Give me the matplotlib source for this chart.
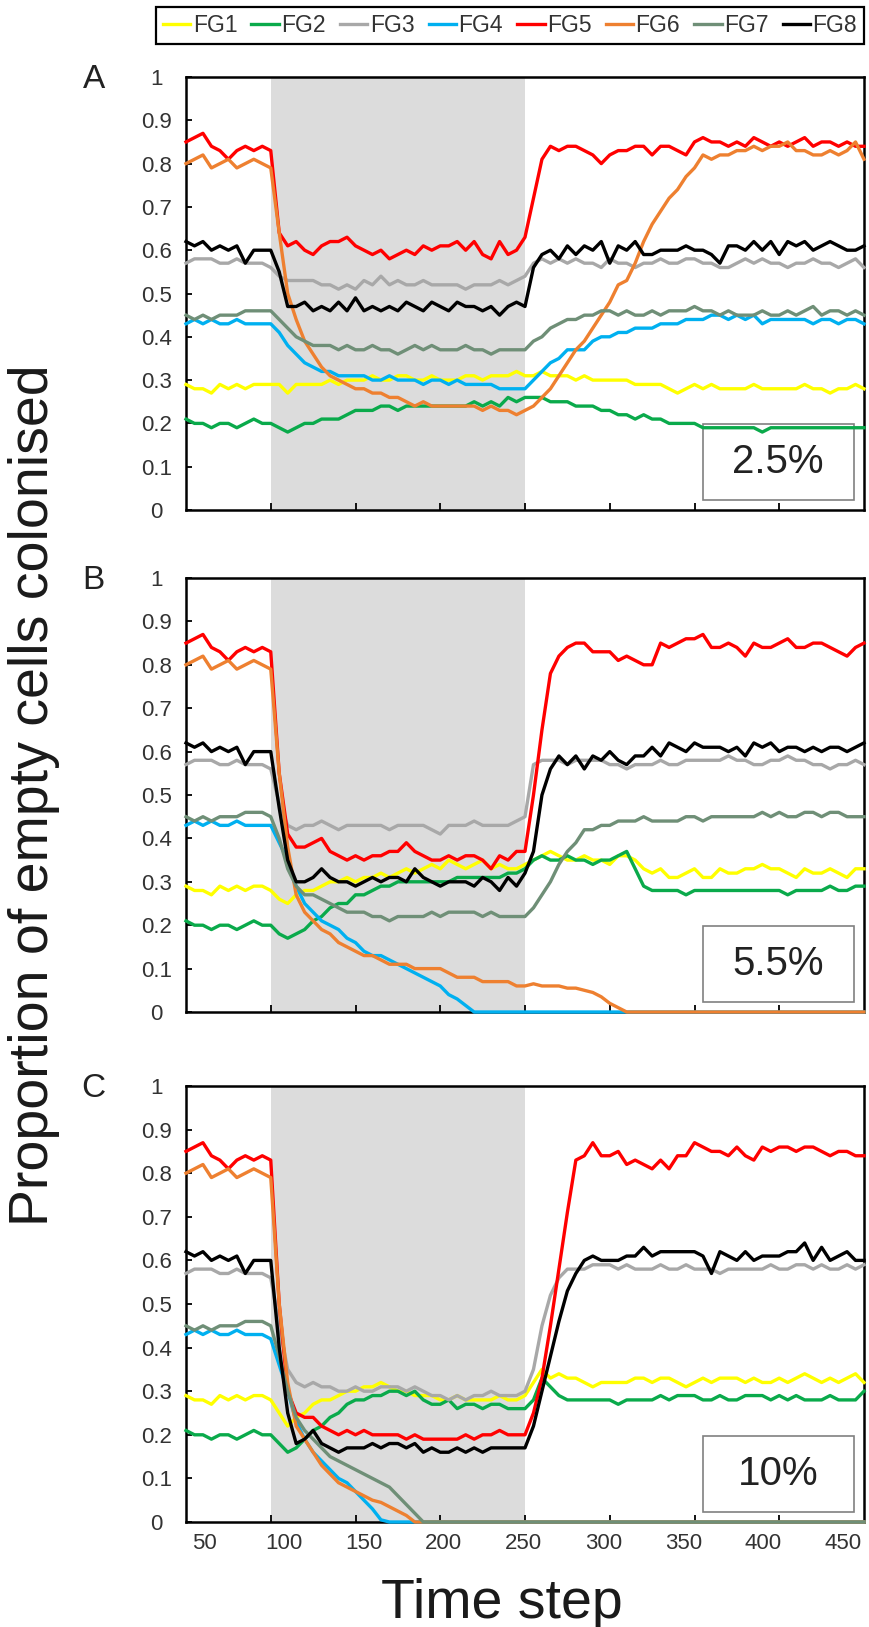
import numpy as np
import matplotlib.pyplot as plt
from matplotlib.patches import Rectangle
from matplotlib.lines import Line2D

# proportions are stored in percent, time steps 50..95 (shared start) and 100..450
groups = ['FG1', 'FG2', 'FG3', 'FG4', 'FG5', 'FG6', 'FG7', 'FG8']
colors = ['#ffff00', '#0aaa4b', '#a8a8a8', '#00b0f0', '#ff0000', '#ee8030', '#6f8f77', '#000000']
steps_pre = np.arange(50, 100, 5)
steps_post = np.arange(100, 455, 5)

fg1_pre = [29, 28, 28, 27, 29, 28, 29, 28, 29, 29]
fg2_pre = [21, 20, 20, 19, 20, 20, 19, 20, 21, 20]
fg3_pre = [57, 58, 58, 58, 57, 57, 58, 57, 57, 57]
fg4_pre = [43, 44, 43, 44, 43, 43, 44, 43, 43, 43]
fg5_pre = [85, 86, 87, 84, 83, 81, 83, 84, 83, 84]
fg6_pre = [80, 81, 82, 79, 80, 81, 79, 80, 81, 80]
fg7_pre = [45, 44, 45, 44, 45, 45, 45, 46, 46, 46]
fg8_pre = [62, 61, 62, 60, 61, 60, 61, 57, 60, 60]

# A: 2.5%
fg1_a = [29, 29, 27, 29, 29, 29, 29, 30, 29, 30, 30, 30, 31, 30, 30, 31, 31, 30, 30, 31,
         30, 30, 30, 31, 31, 30, 31, 31, 31, 32, 31, 31, 32, 31, 31, 31, 30, 31, 30, 30,
         30, 30, 30, 29, 29, 29, 29, 28, 27, 28, 29, 28, 29, 28, 28, 28, 28, 29, 28, 28,
         28, 28, 28, 29, 28, 28, 27, 28, 28, 29, 28]
fg2_a = [20, 19, 18, 19, 20, 20, 21, 21, 21, 22, 23, 23, 23, 24, 24, 23, 24, 24, 24, 24,
         24, 24, 24, 24, 25, 24, 25, 24, 26, 25, 26, 26, 26, 25, 25, 25, 24, 24, 24, 23,
         23, 22, 22, 21, 22, 21, 21, 20, 20, 20, 20, 19, 19, 19, 19, 19, 19, 19, 18, 19,
         19, 19, 19, 19, 19, 19, 19, 19, 19, 19, 19]
fg3_a = [56, 54, 53, 53, 53, 53, 52, 52, 51, 52, 51, 53, 52, 54, 52, 53, 52, 52, 53, 52,
         52, 52, 52, 51, 52, 52, 52, 53, 52, 53, 54, 57, 58, 57, 58, 57, 58, 57, 57, 56,
         58, 57, 57, 56, 57, 57, 58, 57, 57, 58, 58, 57, 57, 56, 56, 57, 58, 57, 58, 57,
         57, 56, 57, 57, 58, 57, 57, 56, 57, 58, 56]
fg4_a = [43, 41, 38, 36, 34, 33, 32, 32, 31, 31, 31, 31, 30, 30, 31, 30, 30, 30, 29, 30,
         30, 29, 30, 29, 29, 29, 29, 28, 28, 28, 28, 30, 32, 34, 35, 37, 37, 37, 39, 40,
         40, 41, 41, 42, 42, 42, 43, 43, 43, 44, 44, 44, 45, 45, 44, 45, 44, 45, 43, 44,
         44, 44, 44, 44, 43, 44, 44, 43, 44, 44, 43]
fg5_a = [83, 64, 61, 62, 60, 59, 61, 62, 62, 63, 61, 60, 59, 60, 58, 59, 60, 59, 61, 60,
         61, 61, 62, 60, 62, 59, 58, 62, 59, 60, 63, 72, 81, 84, 83, 84, 84, 83, 82, 80,
         82, 83, 83, 84, 84, 82, 84, 84, 83, 82, 85, 86, 85, 85, 84, 85, 84, 86, 85, 84,
         85, 84, 85, 86, 84, 85, 85, 84, 85, 84, 84]
fg6_a = [79, 64, 50, 44, 39, 36, 33, 31, 30, 29, 28, 28, 27, 27, 26, 26, 25, 24, 25, 24,
         24, 24, 24, 24, 24, 23, 24, 23, 23, 22, 23, 24, 26, 28, 31, 34, 37, 39, 42, 45,
         48, 52, 53, 57, 62, 66, 69, 72, 74, 77, 79, 82, 81, 82, 82, 83, 83, 84, 83, 84,
         84, 85, 83, 83, 82, 82, 83, 82, 83, 85, 81]
fg7_a = [46, 44, 42, 40, 39, 38, 38, 38, 37, 38, 37, 37, 38, 37, 37, 36, 37, 38, 37, 38,
         37, 37, 37, 38, 37, 37, 36, 37, 37, 37, 37, 39, 40, 42, 43, 44, 44, 45, 45, 46,
         46, 45, 46, 45, 45, 46, 45, 46, 46, 46, 47, 46, 46, 45, 46, 45, 45, 45, 46, 45,
         45, 46, 45, 46, 47, 45, 46, 46, 45, 46, 45]
fg8_a = [60, 55, 47, 47, 48, 46, 47, 46, 48, 46, 49, 46, 47, 46, 47, 46, 48, 47, 46, 48,
         47, 46, 48, 47, 47, 46, 47, 45, 47, 48, 47, 56, 59, 60, 58, 61, 59, 61, 60, 62,
         57, 61, 60, 62, 59, 59, 60, 60, 60, 61, 60, 60, 59, 57, 61, 61, 60, 62, 60, 62,
         59, 62, 61, 62, 60, 61, 62, 61, 60, 60, 61]

# B: 5.5%
fg1_b = [28, 26, 25, 27, 28, 28, 29, 30, 30, 31, 30, 31, 31, 32, 31, 32, 33, 32, 33, 34,
         33, 35, 34, 33, 34, 35, 33, 34, 33, 33, 34, 35, 36, 37, 36, 35, 35, 36, 35, 35,
         34, 36, 36, 35, 33, 32, 33, 31, 31, 32, 33, 31, 31, 33, 32, 32, 33, 33, 34, 33,
         33, 32, 31, 33, 32, 32, 33, 32, 31, 33, 33]
fg2_b = [20, 18, 17, 18, 19, 21, 22, 24, 25, 25, 27, 27, 28, 29, 29, 30, 30, 30, 30, 30,
         30, 30, 31, 31, 31, 31, 31, 31, 32, 32, 33, 35, 36, 35, 35, 36, 35, 35, 34, 35,
         35, 36, 37, 33, 29, 28, 28, 28, 28, 27, 28, 28, 28, 28, 28, 28, 28, 28, 28, 28,
         28, 27, 28, 28, 28, 28, 29, 28, 28, 29, 29]
fg3_b = [56, 48, 43, 42, 43, 43, 44, 43, 42, 43, 43, 43, 43, 43, 42, 43, 43, 43, 43, 42,
         41, 43, 43, 43, 44, 43, 43, 43, 43, 44, 45, 57, 58, 58, 58, 57, 58, 58, 58, 58,
         57, 57, 56, 57, 57, 57, 58, 57, 57, 58, 58, 58, 58, 58, 59, 58, 58, 57, 57, 58,
         58, 59, 58, 58, 57, 57, 56, 57, 57, 58, 57]
fg4_b = [43, 39, 35, 29, 25, 23, 21, 20, 19, 17, 16, 14, 13, 13, 12, 11, 10, 9, 8, 7,
         6, 4, 3, 1.5, 0, 0, 0, 0, 0, 0, 0, 0, 0, 0, 0, 0, 0, 0, 0, 0,
         0, 0, 0, 0, 0, 0, 0, 0, 0, 0, 0, 0, 0, 0, 0, 0, 0, 0, 0, 0,
         0, 0, 0, 0, 0, 0, 0, 0, 0, 0, 0]
fg5_b = [83, 55, 41, 38, 38, 39, 40, 37, 36, 35, 36, 35, 36, 36, 37, 37, 39, 37, 36, 35,
         35, 36, 35, 36, 36, 35, 33, 36, 35, 37, 37, 50, 65, 78, 82, 84, 85, 85, 83, 83,
         83, 81, 82, 81, 80, 80, 85, 84, 85, 86, 86, 87, 84, 84, 85, 84, 82, 85, 84, 84,
         85, 86, 84, 84, 85, 85, 84, 83, 82, 84, 85]
fg6_b = [79, 55, 38, 27, 23, 21, 19, 18, 16, 15, 14, 13, 13, 12, 11, 11, 11, 10, 10, 10,
         10, 9, 8, 8, 8, 7, 7, 7, 7, 6, 6, 6.5, 6, 6, 6, 5.5, 5.5, 5, 4.5, 3.5,
         2, 1, 0, 0, 0, 0, 0, 0, 0, 0, 0, 0, 0, 0, 0, 0, 0, 0, 0, 0,
         0, 0, 0, 0, 0, 0, 0, 0, 0, 0, 0]
fg7_b = [45, 40, 33, 29, 27, 27, 26, 25, 24, 23, 23, 23, 22, 22, 21, 22, 22, 22, 22, 23,
         22, 23, 23, 23, 23, 22, 23, 22, 22, 22, 22, 24, 27, 30, 34, 37, 39, 42, 42, 43,
         43, 44, 44, 44, 45, 44, 44, 44, 44, 45, 45, 44, 45, 45, 45, 45, 45, 45, 46, 45,
         46, 45, 45, 46, 46, 45, 46, 46, 45, 45, 45]
fg8_b = [60, 47, 35, 30, 30, 31, 33, 31, 30, 30, 29, 30, 31, 30, 31, 31, 30, 33, 31, 30,
         29, 30, 30, 30, 29, 31, 30, 28, 31, 29, 32, 37, 50, 56, 59, 57, 59, 56, 59, 58,
         60, 58, 57, 59, 59, 61, 59, 62, 61, 60, 62, 61, 61, 61, 60, 61, 59, 62, 61, 62,
         60, 61, 61, 60, 61, 60, 61, 61, 60, 61, 62]

# C: 10%
fg1_c = [28, 25, 22, 24, 25, 27, 28, 28, 29, 30, 30, 31, 31, 32, 31, 30, 30, 29, 29, 29,
         28, 28, 29, 28, 28, 28, 28, 29, 28, 28, 29, 32, 35, 33, 34, 33, 33, 32, 31, 32,
         32, 32, 32, 33, 33, 32, 33, 33, 32, 31, 32, 33, 32, 33, 33, 33, 32, 33, 32, 32,
         33, 32, 33, 34, 33, 32, 33, 32, 33, 34, 32]
fg2_c = [20, 18, 16, 17, 19, 21, 22, 24, 25, 27, 28, 28, 29, 29, 30, 30, 29, 30, 28, 27,
         27, 28, 26, 27, 27, 26, 27, 27, 26, 26, 26, 28, 33, 31, 29, 28, 28, 28, 28, 28,
         28, 27, 28, 28, 28, 28, 29, 28, 29, 29, 29, 28, 28, 29, 28, 28, 29, 29, 29, 28,
         29, 28, 29, 28, 28, 28, 29, 28, 28, 28, 30]
fg3_c = [56, 45, 35, 32, 31, 32, 31, 31, 30, 30, 31, 30, 30, 31, 31, 31, 30, 31, 30, 29,
         29, 28, 29, 28, 29, 29, 30, 29, 29, 29, 30, 35, 45, 52, 56, 58, 58, 58, 59, 59,
         59, 58, 59, 58, 58, 58, 59, 58, 58, 59, 58, 58, 58, 57, 58, 58, 58, 58, 58, 59,
         58, 58, 59, 59, 58, 59, 58, 58, 59, 58, 59]
fg4_c = [42, 36, 30, 23, 19, 16, 14, 12, 10, 9, 7, 5, 3, 0.5, 0, 0, 0, 0, 0, 0,
         0, 0, 0, 0, 0, 0, 0, 0, 0, 0, 0, 0, 0, 0, 0, 0, 0, 0, 0, 0,
         0, 0, 0, 0, 0, 0, 0, 0, 0, 0, 0, 0, 0, 0, 0, 0, 0, 0, 0, 0,
         0, 0, 0, 0, 0, 0, 0, 0, 0, 0, 0]
fg5_c = [83, 50, 30, 25, 24, 24, 22, 21, 20, 21, 20, 21, 20, 20, 20, 20, 19, 20, 19, 19,
         19, 19, 19, 20, 19, 20, 20, 21, 20, 20, 20, 25, 33, 45, 58, 71, 83, 84, 87, 84,
         84, 85, 82, 83, 82, 81, 83, 81, 84, 84, 87, 86, 85, 85, 84, 86, 84, 83, 86, 85,
         86, 86, 85, 86, 86, 85, 84, 85, 85, 84, 84]
fg6_c = [79, 50, 32, 22, 19, 16, 13, 11, 9, 8, 7, 6, 5, 4.5, 3.5, 2.5, 1.5, 0, 0, 0,
         0, 0, 0, 0, 0, 0, 0, 0, 0, 0, 0, 0, 0, 0, 0, 0, 0, 0, 0, 0,
         0, 0, 0, 0, 0, 0, 0, 0, 0, 0, 0, 0, 0, 0, 0, 0, 0, 0, 0, 0,
         0, 0, 0, 0, 0, 0, 0, 0, 0, 0, 0]
fg7_c = [45, 38, 30, 24, 21, 19, 17, 15, 14, 13, 12, 11, 10, 9, 8, 6, 4, 2, 0, 0,
         0, 0, 0, 0, 0, 0, 0, 0, 0, 0, 0, 0, 0, 0, 0, 0, 0, 0, 0, 0,
         0, 0, 0, 0, 0, 0, 0, 0, 0, 0, 0, 0, 0, 0, 0, 0, 0, 0, 0, 0,
         0, 0, 0, 0, 0, 0, 0, 0, 0, 0, 0]
fg8_c = [60, 40, 25, 18, 19, 21, 18, 17, 16, 17, 17, 17, 18, 17, 18, 18, 17, 18, 16, 17,
         16, 16, 17, 16, 17, 16, 17, 17, 17, 17, 17, 22, 30, 38, 46, 53, 57, 60, 61, 60,
         60, 60, 61, 61, 63, 61, 62, 62, 62, 62, 62, 61, 57, 62, 61, 60, 62, 60, 61, 61,
         61, 62, 62, 64, 60, 63, 60, 61, 62, 60, 60]

pre = [fg1_pre, fg2_pre, fg3_pre, fg4_pre, fg5_pre, fg6_pre, fg7_pre, fg8_pre]
panels = [
    ('A', '2.5%', [fg1_a, fg2_a, fg3_a, fg4_a, fg5_a, fg6_a, fg7_a, fg8_a]),
    ('B', '5.5%', [fg1_b, fg2_b, fg3_b, fg4_b, fg5_b, fg6_b, fg7_b, fg8_b]),
    ('C', '10%', [fg1_c, fg2_c, fg3_c, fg4_c, fg5_c, fg6_c, fg7_c, fg8_c]),
]
disturbance = (100, 250)
tick_steps = [50, 100, 150, 200, 250, 300, 350, 400, 450]
y_ticks = [0, 0.1, 0.2, 0.3, 0.4, 0.5, 0.6, 0.7, 0.8, 0.9, 1]
y_ticklabels = ['0', '0.1', '0.2', '0.3', '0.4', '0.5', '0.6', '0.7', '0.8', '0.9', '1']

narrow = ['Liberation Sans Narrow', 'Liberation Sans', 'DejaVu Sans']
plain = ['Liberation Sans', 'DejaVu Sans']
txt_col = '#333333'

W, H = 869, 1627
fig = plt.figure(figsize=(W / 100, H / 100), dpi=100)

# axes boxes in pixels (top, bottom)
boxes = [(77, 510), (578, 1012), (1086, 1522)]
x0, x1 = 186, 864

steps = np.concatenate([steps_pre, steps_post])
# the original labels are squeezed a little inside the tick marks
label_pos = [60.6 + (v - 50) * 0.9425 for v in tick_steps]

for (letter, pct, series), (top, bot) in zip(panels, boxes):
    ax = fig.add_axes([x0 / W, 1 - bot / H, (x1 - x0) / W, (bot - top) / H])
    ax.axvspan(disturbance[0], disturbance[1], color='#dcdcdc', lw=0, zorder=0)
    for i in range(8):
        vals = np.array(pre[i] + series[i]) / 100.0
        ax.plot(steps, vals, color=colors[i], lw=2.4, zorder=3, clip_on=False,
                solid_joinstyle='round')
    ax.set_xlim(50, 450)
    ax.set_ylim(0, 1)
    for s in ax.spines.values():
        s.set_linewidth(1.8)
        s.set_zorder(2.5)
    ax.set_yticks(y_ticks)
    ax.set_yticklabels(y_ticklabels, family=narrow, fontsize=16, color=txt_col, ha='center')
    ax.tick_params(axis='y', direction='in', length=4.5, width=1.3, pad=21.5)
    ax.set_xticks(tick_steps[1:-1], minor=True)
    ax.tick_params(axis='x', which='minor', direction='in', length=5, width=1.3)
    ax.set_xticks(label_pos)
    if letter == 'C':
        ax.set_xticklabels([str(v) for v in tick_steps], family=narrow, fontsize=16, color=txt_col)
    else:
        ax.set_xticklabels([])
    ax.tick_params(axis='x', which='major', length=0, pad=8)
    ax.add_patch(Rectangle((0.762, 0.022), 0.223, 0.176, transform=ax.transAxes,
                           facecolor='white', edgecolor='#808080', lw=1.2, zorder=1.5))
    ax.text(0.8735, 0.11, pct, transform=ax.transAxes, ha='center', va='center',
            fontsize=29, family=narrow, color='#222222', zorder=1.6)
    ax.text(-0.136, 0.995, letter, transform=ax.transAxes, ha='center', va='center',
            fontsize=24, family=plain, color='#222222')

handles = [Line2D([], [], color=c, lw=2.4) for c in colors]
leg = fig.legend(handles, groups, loc='upper left', ncol=8, mode='expand',
                 bbox_to_anchor=(156 / W, 0.5, (864 - 156) / W, 1 - 7 / H - 0.5),
                 borderaxespad=0, handlelength=1.2, handletextpad=0.1, columnspacing=0.25,
                 fancybox=False, framealpha=1, edgecolor='black',
                 prop={'family': narrow, 'size': 16.5}, borderpad=0.3)
leg.get_frame().set_linewidth(1.6)
for t in leg.get_texts():
    t.set_color(txt_col)

fig.text(34 / W, 1 - 795 / H, 'Proportion of empty cells colonised', rotation=90,
         ha='center', va='center', fontsize=40, family=plain, color='#1a1a1a')
fig.text(502 / W, 1 - 1618 / H, 'Time step', ha='center', va='baseline',
         fontsize=40, family=plain, color='#1a1a1a')

fig.savefig('out.png', dpi=100)
